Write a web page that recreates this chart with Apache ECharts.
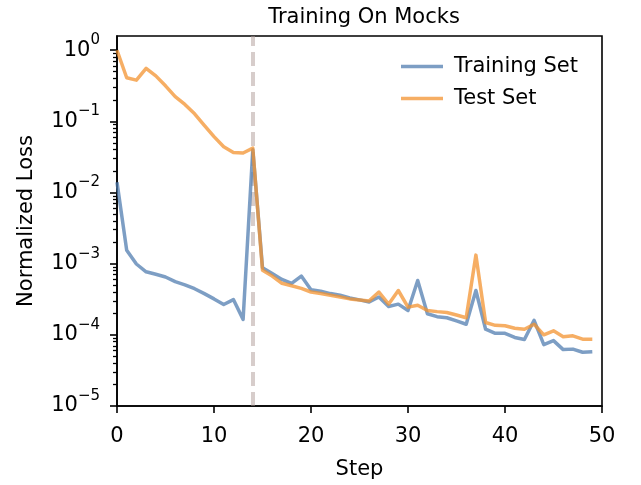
<!DOCTYPE html>
<html>
<head>
<meta charset="utf-8">
<script src="https://cdn.jsdelivr.net/npm/echarts@6/dist/echarts.min.js"></script>
<style>
html,body{margin:0;padding:0;background:#fff;}
#chart{width:641px;height:485px;}
</style>
</head>
<body>
<div id="chart"></div>
<script>
const steps = [0,1,2,3,4,5,6,7,8,9,10,11,12,13,14,15,16,17,18,19,20,21,22,23,24,25,26,27,28,29,30,31,32,33,34,35,36,37,38,39,40,41,42,43,44,45,46,47,48,49];
const trainLoss = [0.014,0.00155,0.00099,0.00077,0.00071,0.00065,0.00056,0.000505,0.000445,0.00038,0.00032,0.000267,0.000313,0.000165,0.040,0.00088,0.00073,0.0006,0.00053,0.00067,0.00043,0.00041,0.00038,0.00036,0.00033,0.00031,0.00029,0.00034,0.00025,0.00027,0.00022,0.00058,0.000198,0.00018,0.000174,0.000157,0.000141,0.00042,0.00012,0.000105,0.000105,0.000092,0.000086,0.00016,0.000073,0.000083,0.000062,0.000063,0.000057,0.000058];
const testLoss = [1.0,0.41,0.38,0.557,0.436,0.316,0.223,0.173,0.128,0.088,0.061,0.044,0.0365,0.036,0.042,0.00081,0.00067,0.00053,0.00049,0.00045,0.0004,0.00038,0.00036,0.00034,0.00032,0.00031,0.0003,0.0004,0.00027,0.00042,0.000245,0.00026,0.00022,0.000212,0.000206,0.00019,0.000174,0.00132,0.000149,0.000136,0.000134,0.000124,0.00012,0.000141,0.0001,0.000114,0.000094,0.000097,0.000087,0.000087];
const xTicks = [0,10,20,30,40,50];
const yDecades = [-5,-4,-3,-2,-1,0];
const switchStep = 14;
const seriesNames = ['Training Set','Test Set'];

const FONT = 'DejaVu Sans';
const FS = 21;
const toLog = arr => arr.map((v,i) => [steps[i], Math.log10(v)]);
const minorTicks = [];
yDecades.forEach(d => { for (let k = 2; k <= 9; k++) { const v = d + Math.log10(k); if (v < 0.2) minorTicks.push(v); } });

const chart = echarts.init(document.getElementById('chart'), null, {renderer:'canvas'});
chart.setOption({
  animation:false,
  backgroundColor:'#ffffff',
  textStyle:{fontFamily:FONT},
  title:{text:'Training On Mocks', left:359, top:2, textAlign:'center',
    textStyle:{fontFamily:FONT, fontSize:FS, fontWeight:'normal', color:'#000'}},
  grid:{left:117, right:39, top:36, bottom:75, show:true, borderColor:'#000', borderWidth:1.6, backgroundColor:'transparent'},
  legend:{orient:'vertical', left:396, top:51, itemWidth:42, itemHeight:3.4, itemGap:11, icon:'rect',
    data:seriesNames,
    textStyle:{fontFamily:FONT, fontSize:FS, color:'#000', lineHeight:21, padding:[0,0,0,6]}},
  xAxis:{type:'value', min:0, max:50, interval:10,
    name:'Step', nameLocation:'middle', nameGap:53, nameTextStyle:{fontFamily:FONT, fontSize:FS, color:'#000'},
    axisLine:{show:true, onZero:false, lineStyle:{color:'#000', width:1.6}},
    axisTick:{show:true, length:7, lineStyle:{color:'#000', width:1.6}, customValues:xTicks},
    axisLabel:{fontFamily:FONT, fontSize:FS, color:'#000', margin:20, customValues:xTicks},
    splitLine:{show:false}},
  yAxis:[{type:'value', min:-5, max:0.2, interval:1,
    name:'Normalized Loss', nameLocation:'middle', nameGap:80, nameRotate:90,
    nameTextStyle:{fontFamily:FONT, fontSize:FS, color:'#000'},
    axisLine:{show:true, onZero:false, lineStyle:{color:'#000', width:1.6}},
    axisTick:{show:true, length:7, lineStyle:{color:'#000', width:1.6}, customValues:yDecades},
    axisLabel:{margin:17, customValues:yDecades,
      formatter: v => '{b|10}{s|' + (v === 0 ? '0' : '\u2212' + (-v)) + '}',
      rich:{b:{fontFamily:FONT, fontSize:FS, color:'#000', lineHeight:21, verticalAlign:'bottom'},
            s:{fontFamily:FONT, fontSize:15, color:'#000', lineHeight:15, padding:[0,0,13,0], verticalAlign:'bottom'}}},
    splitLine:{show:false}},
   {type:'value', min:-5, max:0.2, position:'left',
    axisLine:{show:false}, axisLabel:{show:false}, splitLine:{show:false},
    axisTick:{show:true, length:4, lineStyle:{color:'#000', width:1.3}, customValues:minorTicks}}],
  series:[
    {name:seriesNames[0], type:'line', data:toLog(trainLoss), showSymbol:false, symbol:'none',
     color:'rgba(82,126,176,0.75)', lineStyle:{width:3.5, join:'round'}, z:3,
     markLine:{silent:true, symbol:'none', label:{show:false}, z:2,
       lineStyle:{color:'rgba(175,155,152,0.5)', width:4, type:[14,6]},
       data:[{xAxis:switchStep}]}},
    {name:seriesNames[1], type:'line', data:toLog(testLoss), showSymbol:false, symbol:'none',
     color:'rgba(243,147,48,0.75)', lineStyle:{width:3.5, join:'round'}, z:4}
  ]
});
</script>
</body>
</html>
